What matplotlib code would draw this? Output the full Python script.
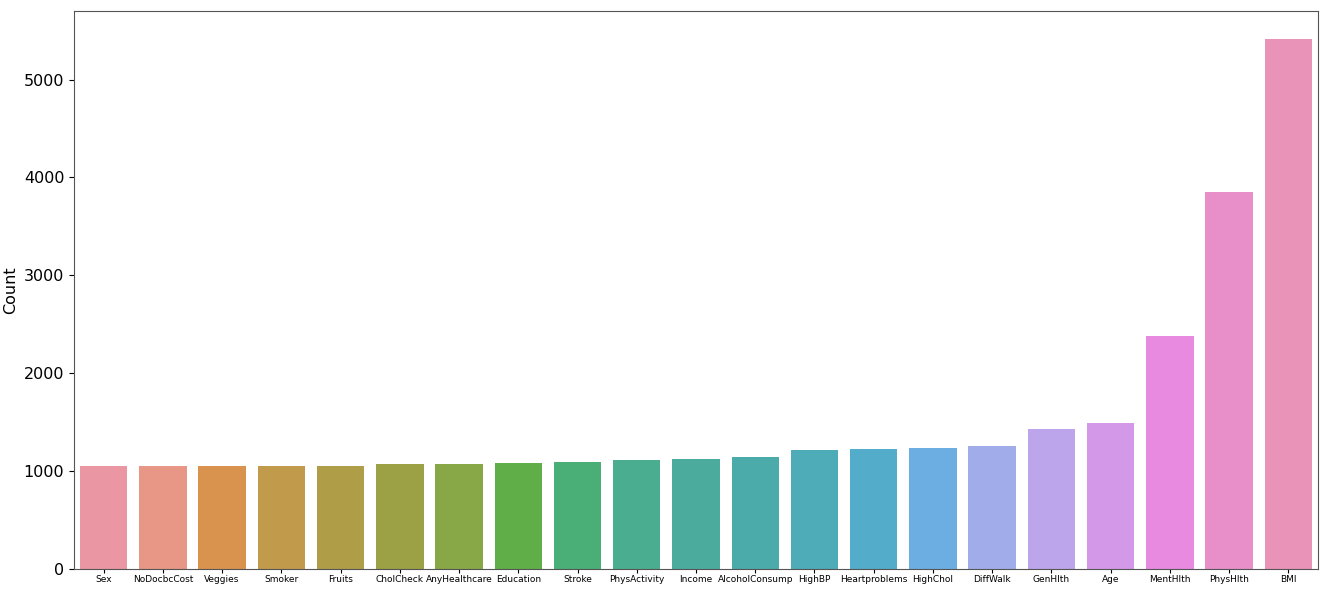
import matplotlib
matplotlib.use("agg")
import matplotlib.pyplot as plt
import seaborn as sns
import pandas as pd

# Feature counts
features = ["Sex", "NoDocbcCost", "Veggies", "Smoker", "Fruits", "CholCheck",
            "AnyHealthcare", "Education", "Stroke", "PhysActivity", "Income",
            "AlcoholConsump", "HighBP", "Heartproblems", "HighChol", "DiffWalk",
            "GenHlth", "Age", "MentHlth", "PhysHlth", "BMI"]
counts = [1054, 1054, 1056, 1057, 1057, 1071, 1075, 1078, 1088, 1109, 1122,
          1140, 1214, 1228, 1241, 1252, 1435, 1493, 2380, 3848, 5418]

df = pd.DataFrame({"feature": features, "count": counts})
pal = sns.husl_palette(len(features), l=.7)

fig = plt.figure(figsize=(13.25, 5.89), dpi=100)
ax = fig.add_axes([74 / 1325, 1 - 569 / 589, (1318 - 74) / 1325, (569 - 11) / 589])

sns.barplot(data=df, x="feature", y="count", hue="feature", palette=pal,
            saturation=.75, legend=False, ax=ax)

ax.set_xlabel("")
ax.set_ylabel("Count", fontsize=11.5)
ax.tick_params(axis="y", labelsize=11.5)
ax.tick_params(axis="x", length=3, pad=1.5)
for lab in ax.get_xticklabels():
    lab.set_fontfamily(["Liberation Sans Narrow", "DejaVu Sans"])
    lab.set_fontsize(6.5)
ax.set_ylim(0, 5700)
for s in ax.spines.values():
    s.set_color("#555555")

fig.savefig("out.png", dpi=100)
